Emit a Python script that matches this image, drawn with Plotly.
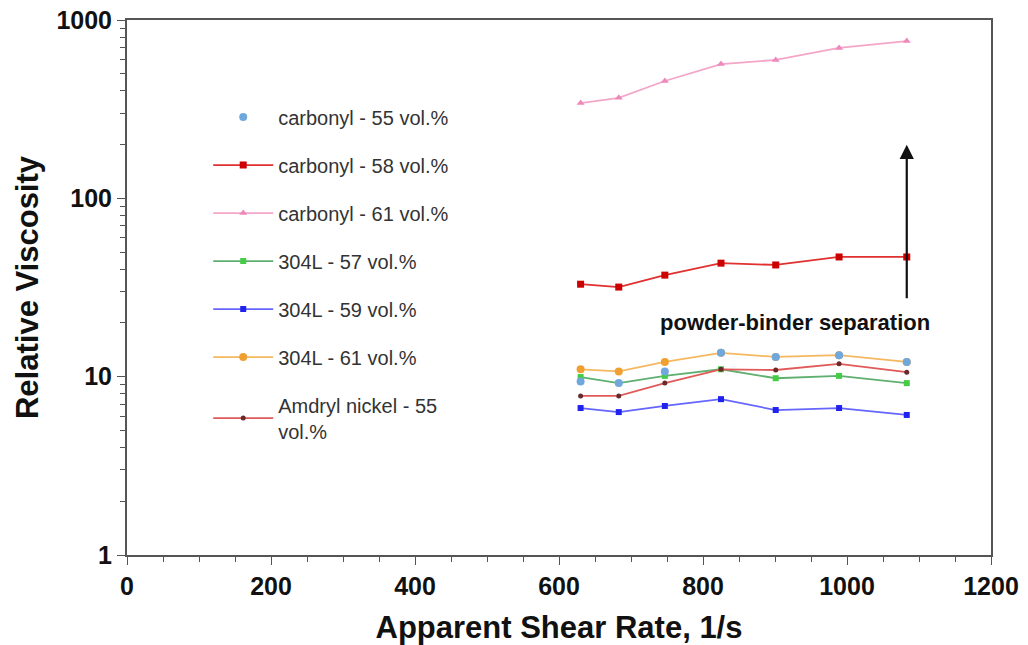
import math
import plotly.graph_objects as go

shear_rate = [630, 683, 747, 825, 901, 989, 1083]

carbonyl_55 = [9.4, 9.2, 10.7, 13.6, 12.9, 13.2, 12.1]
carbonyl_58 = [33.0, 31.8, 37.1, 43.3, 42.3, 46.9, 46.9]
carbonyl_61 = [342, 366, 455, 566, 597, 697, 762]
l304_57 = [9.95, 9.2, 10.1, 11.0, 9.8, 10.1, 9.2]
l304_59 = [6.67, 6.33, 6.85, 7.48, 6.5, 6.67, 6.1]
l304_61 = [11.0, 10.7, 12.1, 13.6, 12.9, 13.2, 12.1]
amdryl_55 = [7.8, 7.8, 9.2, 11.0, 10.9, 11.8, 10.6]

names = ["carbonyl - 55 vol.%", "carbonyl - 58 vol.%", "carbonyl - 61 vol.%",
         "304L - 57 vol.%", "304L - 59 vol.%", "304L - 61 vol.%",
         "Amdryl nickel - 55<br>vol.%"]

arrow_x = [1083, 1083]
arrow_y = [27, 200]
note_text = "powder-binder separation"
note_pos = [928, 20.2]

FONT = "Liberation Sans, Arial, sans-serif"

fig = go.Figure()

styles = [
    dict(data=carbonyl_55, mode="markers", line=None, marker=dict(color="#6fa8dc", size=8, symbol="circle")),
    dict(data=carbonyl_58, mode="lines+markers", line=dict(color="#e03030", width=1.8), marker=dict(color="#cc0000", size=7, symbol="square")),
    dict(data=carbonyl_61, mode="lines+markers", line=dict(color="#f4a6c8", width=1.8), marker=dict(color="#ee88bb", size=7, symbol="triangle-up")),
    dict(data=l304_57, mode="lines+markers", line=dict(color="#5fb070", width=1.8), marker=dict(color="#44cc44", size=6, symbol="square")),
    dict(data=l304_59, mode="lines+markers", line=dict(color="#6666ff", width=1.8), marker=dict(color="#2222ee", size=6, symbol="square")),
    dict(data=l304_61, mode="lines+markers", line=dict(color="#f5b860", width=1.8), marker=dict(color="#f0a030", size=8, symbol="circle")),
    dict(data=amdryl_55, mode="lines+markers", line=dict(color="#e05a5a", width=1.8), marker=dict(color="#6a2a2a", size=5, symbol="circle")),
]

# draw carbonyl 55 last so its markers sit on top, keep legend order via legendrank
order = [1, 2, 3, 4, 5, 6, 0]
for i in order:
    nm, st = names[i], styles[i]
    kw = dict(x=shear_rate, y=st["data"], mode=st["mode"], name=nm,
              marker=st["marker"], legendgroup=f"g{i}", legendrank=i + 1)
    if st["line"] is not None:
        kw["line"] = st["line"]
    fig.add_trace(go.Scatter(**kw))

fig.add_annotation(x=arrow_x[1], y=math.log10(arrow_y[1]),
                   ax=arrow_x[0], ay=math.log10(arrow_y[0]),
                   xref="x", yref="y", axref="x", ayref="y",
                   showarrow=True, arrowhead=2, arrowsize=1.3, arrowwidth=2.2,
                   arrowcolor="#111111", text="")
fig.add_annotation(x=note_pos[0], y=math.log10(note_pos[1]),
                   xref="x", yref="y", text="<b>" + note_text + "</b>",
                   showarrow=False, font=dict(family=FONT, size=22, color="#111111"))

fig.update_layout(
    width=1028, height=645,
    margin=dict(l=127, r=37, t=20, b=90),
    paper_bgcolor="white", plot_bgcolor="white",
    font=dict(family=FONT, color="#111111"),
    legend=dict(x=0.094, y=0.855, xanchor="left", yanchor="top",
                bgcolor="rgba(0,0,0,0)", font=dict(family=FONT, size=20, color="#333333"),
                tracegroupgap=19, itemwidth=60, traceorder="grouped"),
    showlegend=True,
)

fig.update_xaxes(
    range=[0, 1200], dtick=200, tick0=0, automargin=False,
    showline=True, linecolor="#555555", linewidth=2, mirror=True,
    ticks="outside", ticklen=8, tickcolor="#555555",
    minor=dict(dtick=50, ticks="outside", ticklen=5, tickcolor="#555555"),
    showgrid=False, zeroline=False,
    tickprefix="<b>", ticksuffix="</b>",
    tickfont=dict(family=FONT, size=25, color="#111111"),
    title=dict(text="<b>Apparent Shear Rate, 1/s</b>", font=dict(family=FONT, size=31, color="#111111"), standoff=18),
)
fig.update_yaxes(
    type="log", range=[0, 3], tickvals=[1, 10, 100, 1000], ticktext=["<b>1</b>", "<b>10</b>", "<b>100</b>", "<b>1000</b>"],
    automargin=False,
    showline=True, linecolor="#555555", linewidth=2, mirror=True,
    ticks="outside", ticklen=8, tickcolor="#555555",
    minor=dict(dtick="D1", ticks="outside", ticklen=5, tickcolor="#555555", showgrid=False),
    showgrid=False, zeroline=False,
    tickfont=dict(family=FONT, size=25, color="#111111"),
    title=dict(text="<b>Relative Viscosity</b>", font=dict(family=FONT, size=31, color="#111111"), standoff=9),
)

fig.write_html("out.html")
